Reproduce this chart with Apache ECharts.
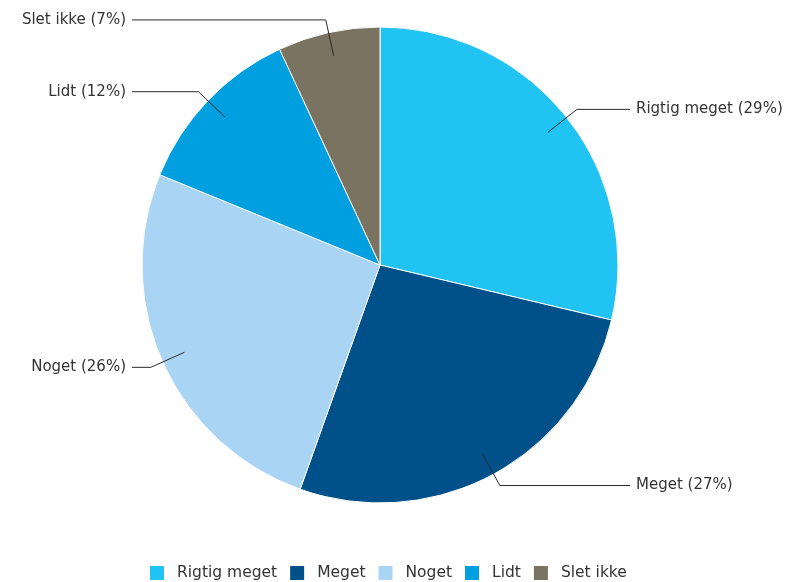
<!DOCTYPE html>
<html>
<head>
<meta charset="utf-8">
<script src="https://cdn.jsdelivr.net/npm/echarts@6/dist/echarts.min.js"></script>
<style>html,body{margin:0;padding:0;background:#fff}#c{width:795px;height:582px}</style>
</head>
<body>
<div id="c"></div>
<script>
var categories = ['Rigtig meget', 'Meget', 'Noget', 'Lidt', 'Slet ikke'];
var values = [29, 27, 26, 12, 7];
var colors = ['#21C3F3', '#00508A', '#A9D4F4', '#009FE0', '#7A7362'];

var CX = 380, CY = 265, R = 238;
var total = values.reduce(function (a, b) { return a + b; }, 0);
function midAngle(i) {
  var cum = 0;
  for (var k = 0; k < i; k++) cum += values[k];
  return (cum + values[i] / 2) / total * Math.PI * 2;
}
var pieData = categories.map(function (c, i) { return { name: c, value: values[i] }; });

var chart = echarts.init(document.getElementById('c'));
chart.setOption({
  animation: false,
  color: colors,
  textStyle: { fontFamily: 'DejaVu Sans' },
  legend: {
    bottom: 0,
    left: 148,
    padding: 0,
    itemWidth: 16,
    itemHeight: 16,
    itemGap: 11,
    icon: 'rect',
    textStyle: { fontSize: 15.5, color: '#333', fontFamily: 'DejaVu Sans', padding: [0, 0, 0, 7] },
    data: categories
  },
  series: [{
    type: 'pie',
    z: 2,
    center: [CX, CY],
    radius: [0, R],
    startAngle: 90,
    clockwise: true,
    itemStyle: { borderColor: '#fff', borderWidth: 1 },
    emphasis: { disabled: true },
    label: { show: false },
    labelLine: { show: false },
    data: pieData
  }, {
    type: 'pie',
    z: 5,
    silent: true,
    center: [CX, CY],
    radius: [0, R],
    startAngle: 90,
    clockwise: true,
    itemStyle: { color: 'rgba(0,0,0,0)', borderWidth: 0 },
    emphasis: { disabled: true },
    label: {
      show: true,
      position: 'outside',
      formatter: '{b} ({c}%)',
      fontSize: 15,
      color: '#333',
      fontFamily: 'DejaVu Sans'
    },
    labelLine: { show: true, length: 12, length2: 40, lineStyle: { color: '#2a2a2a', width: 1 } },
    labelLayout: function (params) {
      var a = midAngle(params.dataIndex);
      var sx = Math.sin(a), sy = -Math.cos(a);
      var p0 = [CX + 0.9 * R * sx, CY + 0.9 * R * sy];
      var p1 = [CX + (R + 13) * sx, CY + (R + 13) * sy];
      var right = sx >= 0;
      var p2 = [right ? 630 : 132, p1[1]];
      return {
        x: right ? p2[0] + 6 : p2[0] - 6,
        y: p2[1],
        align: right ? 'left' : 'right',
        verticalAlign: 'middle',
        labelLinePoints: [p0, p1, p2]
      };
    },
    data: pieData
  }]
});
</script>
</body>
</html>
